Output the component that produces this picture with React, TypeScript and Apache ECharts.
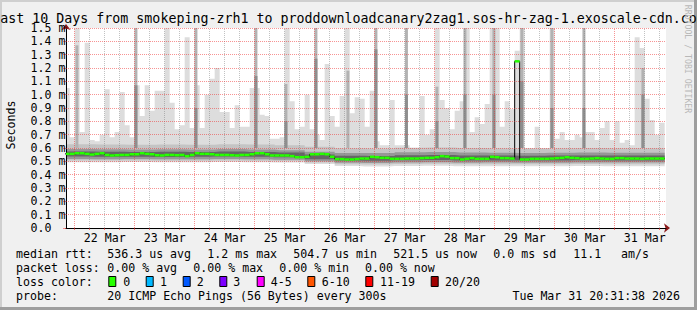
import { useEffect, useRef } from 'react';
import * as echarts from 'echarts';

const HOUR = 3600 * 1000;
const AXIS_START = Date.UTC(2026, 2, 21, 20, 31, 38);
const AXIS_END = Date.UTC(2026, 2, 31, 20, 31, 38);
const STEP_START = Date.UTC(2026, 2, 21, 20, 0, 0);
const STEP_HOURS = 2;
const BAND_HOURS = 12;
const DAY_REF = Date.UTC(2026, 2, 21, 0, 0, 0);
const MONO = '"DejaVu Sans Mono", monospace';

const TITLE = 'Last 10 Days from smokeping-zrh1 to proddownloadcanary2zag1.sos-hr-zag-1.exoscale-cdn.com';

// x tick labels (placed at noon of each day)
const labelDays = [22, 23, 24, 25, 26, 27, 28, 29, 30, 31];
const tickLabels = ['22 Mar', '23 Mar', '24 Mar', '25 Mar', '26 Mar', '27 Mar', '28 Mar', '29 Mar', '30 Mar', '31 Mar'];

// highest ping per 2-hour step (ms)
const maxRtt = [
  1.05, 0.68, 1.6, 0.72, 1.39, 0.66, 0.65, 0.70, 1.04, 0.68,
  0.72, 1.02, 0.77, 0.68, 1.07, 0.84, 1.07, 0.88, 1.03, 1.03,
  1.6, 0.94, 0.74, 0.77, 1.43, 0.75, 1.07, 0.75, 1.0, 1.12,
  1.2, 0.87, 0.87, 0.75, 0.92, 0.76, 0.76, 1.05, 1.05, 0.85,
  0.84, 0.67, 0.67, 0.68, 1.6, 0.95, 0.74, 0.76, 1.0, 0.74,
  0.70, 0.66, 1.23, 0.84, 0.76, 0.99, 1.6, 0.86, 0.98, 0.97,
  0.76, 1.03, 0.65, 0.62, 0.62, 0.96, 0.62, 0.62, 0.62, 0.60,
  0.60, 0.99, 0.70, 0.74, 1.6, 0.96, 0.90, 0.74, 0.88, 0.95,
  1.6, 0.72, 0.83, 0.78, 0.93, 1.6, 1.6, 0.76, 0.95, 0.89,
  1.33, 1.6, 0.60, 0.60, 0.76, 0.60, 0.60, 1.6, 0.67, 0.72,
  0.66, 0.66, 0.70, 0.68, 0.72, 0.72, 0.66, 0.75, 0.80, 0.66,
  0.80, 0.64, 0.66, 0.62, 1.43, 1.35, 0.97, 0.81, 0.70, 0.79,
];

// median rtt per 2-hour step (ms)
const medianRtt = [
  0.556, 0.556, 0.561, 0.561, 0.556, 0.551, 0.556, 0.561, 0.548, 0.544,
  0.546, 0.548, 0.548, 0.553, 0.553, 0.561, 0.556, 0.553, 0.546, 0.544,
  0.548, 0.548, 0.546, 0.548, 0.539, 0.548, 0.561, 0.556, 0.556, 0.553,
  0.548, 0.548, 0.548, 0.546, 0.544, 0.548, 0.548, 0.553, 0.561, 0.561,
  0.553, 0.544, 0.544, 0.544, 0.544, 0.539, 0.531, 0.531, 0.534, 0.553,
  0.553, 0.556, 0.553, 0.534, 0.517, 0.517, 0.514, 0.514, 0.517, 0.521,
  0.521, 0.534, 0.531, 0.526, 0.526, 0.519, 0.519, 0.519, 0.521, 0.521,
  0.521, 0.524, 0.526, 0.526, 0.531, 0.539, 0.536, 0.524, 0.524, 0.514,
  0.519, 0.524, 0.519, 0.519, 0.519, 0.534, 0.531, 0.524, 0.524, 0.521,
  1.25, 0.514, 0.514, 0.519, 0.519, 0.519, 0.519, 0.521, 0.524, 0.526,
  0.531, 0.526, 0.524, 0.519, 0.519, 0.521, 0.524, 0.521, 0.519, 0.519,
  0.524, 0.524, 0.521, 0.521, 0.521, 0.519, 0.521, 0.521, 0.521, 0.521,
];

// smoke bands per 12-hour step (ms)
const bandMinRtt = [0.494, 0.494, 0.495, 0.494, 0.494, 0.495, 0.494, 0.492, 0.480, 0.465, 0.462, 0.465, 0.466, 0.463, 0.464, 0.463, 0.463, 0.465, 0.464, 0.464];
const bandOuterLow = [0.506, 0.506, 0.507, 0.505, 0.505, 0.506, 0.505, 0.503, 0.492, 0.478, 0.476, 0.480, 0.481, 0.478, 0.479, 0.478, 0.478, 0.480, 0.479, 0.479];
const bandOuterHigh = [0.628, 0.626, 0.625, 0.626, 0.624, 0.628, 0.626, 0.620, 0.610, 0.598, 0.596, 0.602, 0.604, 0.600, 0.598, 0.596, 0.598, 0.600, 0.598, 0.598];
const bandMidLow = [0.518, 0.516, 0.517, 0.515, 0.516, 0.517, 0.516, 0.512, 0.500, 0.490, 0.488, 0.492, 0.494, 0.490, 0.491, 0.490, 0.490, 0.492, 0.491, 0.491];
const bandMidHigh = [0.592, 0.590, 0.588, 0.590, 0.588, 0.592, 0.588, 0.584, 0.572, 0.563, 0.562, 0.568, 0.570, 0.566, 0.564, 0.563, 0.565, 0.566, 0.565, 0.565];
const bandCoreLow = [0.536, 0.534, 0.535, 0.533, 0.534, 0.536, 0.534, 0.530, 0.516, 0.506, 0.504, 0.508, 0.510, 0.506, 0.507, 0.506, 0.506, 0.508, 0.507, 0.507];
const bandCoreHigh = [0.574, 0.572, 0.570, 0.572, 0.570, 0.574, 0.570, 0.566, 0.552, 0.542, 0.540, 0.546, 0.548, 0.544, 0.543, 0.542, 0.543, 0.544, 0.543, 0.543];

// short dense-smoke columns (hours after 21 Mar 00:00 UTC)
const columnHours = [24.9, 48.5, 72.5, 96.5, 108.5, 120.5, 133.3, 144.5, 156.7, 168.9, 180.1, 191.7, 202.9, 214.9, 227.7, 251.3];
const columnTop = [1.37, 1.6, 1.6, 1.6, 1.08, 1.6, 1.18, 1.6, 1.6, 1.06, 1.6, 1.6, 1.6, 1.6, 1.6, 1.2];
const columnMid = [0.6, 1.07, 0.9, 1.14, 0.8, 1.27, 0.6, 1.34, 1.0, 0.8, 1.0, 1.0, 1.1, 0.9, 0.9, 1.0];
const COLUMN_BASE = 0.6;

const lossLabels = ['0', '1', '2', '3', '4-5', '6-10', '11-19', '20/20'];
const lossColors = ['#26ff00', '#00b8ff', '#0059ff', '#7e00ff', '#ff00ff', '#ff5500', '#ff0000', '#a10000'];

const statsRow1 = ['median rtt:', '536.3 us avg', '1.2 ms max', '504.7 us min', '521.5 us now', '0.0 ms sd', '11.1', 'am/s'];
const statsRow2 = ['packet loss:', '0.00 % avg', '0.00 % max', '0.00 % min', '0.00 % now'];
const probeText = ['probe:', '20 ICMP Echo Pings (56 Bytes) every 300s'];
const dateText = 'Tue Mar 31 20:31:38 2026';

const stepTime = (i: number) => STEP_START + i * STEP_HOURS * HOUR;
const bandAt = (arr: number[], i: number) => arr[Math.floor((i * STEP_HOURS) / BAND_HOURS)];

function stepPoints(vals: number[]) {
  const pts: [number, number][] = vals.map((v, i) => [stepTime(i), v]);
  pts.push([stepTime(vals.length), vals[vals.length - 1]]);
  return pts;
}

const TIME_DIMS = [{ name: 't', type: 'time' }, { name: 'v', type: 'float' }];

function bandSeries(name: string, lo: number[], hi: number[], color: string) {
  const diff = lo.map((v, i) => hi[i] - v);
  return [
    {
      type: 'line', name: name + '-base', stack: name, step: 'end', symbol: 'none', silent: true, z: 2,
      xAxisIndex: 1, dimensions: TIME_DIMS, encode: { x: 't', y: 'v' },
      data: stepPoints(lo), lineStyle: { width: 0, opacity: 0 }, areaStyle: { opacity: 0 },
    },
    {
      type: 'line', name, stack: name, step: 'end', symbol: 'none', silent: true, z: 2,
      xAxisIndex: 1, dimensions: TIME_DIMS, encode: { x: 't', y: 'v' },
      data: stepPoints(diff), lineStyle: { width: 0, opacity: 0 }, areaStyle: { color, opacity: 1 },
    },
  ];
}

export default function App() {
  const ref = useRef<HTMLDivElement>(null);
  useEffect(() => {
    document.body.style.margin = '0';
    if (!ref.current) return;
    const chart = echarts.init(ref.current, null, { renderer: 'svg' });

    const idx = maxRtt.map((_, i) => i);
    const minExp = idx.map((i) => bandAt(bandMinRtt, i));
    const outLo = idx.map((i) => bandAt(bandOuterLow, i));
    const outHi = idx.map((i) => bandAt(bandOuterHigh, i));
    const midLo = idx.map((i) => bandAt(bandMidLow, i));
    const midHi = idx.map((i) => bandAt(bandMidHigh, i));
    const coreLo = idx.map((i) => bandAt(bandCoreLow, i));
    const coreHi = idx.map((i) => bandAt(bandCoreHigh, i));

    const sixHours: number[] = [];
    for (let t = DAY_REF; t <= AXIS_END; t += 6 * HOUR) if (t > AXIS_START) sixHours.push(t);
    const labelTimes = labelDays.map((d) => Date.UTC(2026, 2, d, 12, 0, 0));
    const yGrid: number[] = [];
    for (let k = 1; k <= 15; k++) yGrid.push(k / 10);

    const redGrid = { color: 'rgba(240,40,40,0.5)', type: [1, 1], width: 1 };
    const grayGrid = { color: 'rgba(120,120,120,0.45)', type: [1, 1], width: 1 };
    const gridLines: any[] = [];
    sixHours.forEach((t) => {
      const isDay = new Date(t).getUTCHours() === 0;
      gridLines.push({ xAxis: t, lineStyle: isDay ? redGrid : grayGrid });
    });
    yGrid.forEach((v) => gridLines.push({ yAxis: v, lineStyle: redGrid }));

    const textEl = (text: string, x: number, y: number, extra: any = {}) => ({
      type: 'text', x, y, silent: true,
      style: { text, fill: '#000', fontFamily: MONO, fontSize: 11.6, align: 'left', verticalAlign: 'middle', ...extra },
    });

    const row1X = [16, 107.3, 207.3, 293.3, 393.3, 493.3, 573.3, 621];
    const row2X = [16, 107.3, 193.3, 279.3, 365];
    const boxX = [108.3, 145.7, 182.7, 219.3, 256.7, 307.3, 365.3, 430.7];
    const boxLabelX = [123.3, 160, 196.7, 233.3, 270.7, 321.7, 380, 445];

    const graphics: any[] = [
      { type: 'rect', shape: { x: 0, y: 0, width: 697, height: 2 }, style: { fill: '#cfcfcf' }, silent: true },
      { type: 'rect', shape: { x: 0, y: 0, width: 2, height: 310 }, style: { fill: '#cfcfcf' }, silent: true },
      { type: 'rect', shape: { x: 0, y: 307, width: 697, height: 3 }, style: { fill: '#9e9e9e' }, silent: true },
      { type: 'rect', shape: { x: 694, y: 0, width: 3, height: 310 }, style: { fill: '#9e9e9e' }, silent: true },
      textEl(TITLE, 348.5, 18.5, { fontSize: 13.3, align: 'center' }),
      {
        type: 'text', x: 11, y: 125, rotation: Math.PI / 2, silent: true,
        style: { text: 'Seconds', fill: '#000', fontFamily: MONO, fontSize: 11.6, align: 'center', verticalAlign: 'middle' },
      },
      {
        type: 'text', x: 688, y: 59, rotation: -Math.PI / 2, silent: true,
        style: { text: 'RRDTOOL / TOBI OETIKER', fill: '#b8b8b8', fontFamily: MONO, fontSize: 8.2, align: 'center', verticalAlign: 'middle' },
      },
    ];
    statsRow1.forEach((t, i) => graphics.push(textEl(t, row1X[i], 254.3)));
    statsRow2.forEach((t, i) => graphics.push(textEl(t, row2X[i], 268.3)));
    graphics.push(textEl('loss color:', 16, 282.3));
    lossLabels.forEach((t, i) => {
      graphics.push({
        type: 'rect', silent: true,
        shape: { x: boxX[i] + 0.5, y: 276.5, width: 7, height: 10 },
        style: { fill: lossColors[i], stroke: '#000', lineWidth: 1 },
      });
      graphics.push(textEl(t, boxLabelX[i], 282.3));
    });
    graphics.push(textEl(probeText[0], 16, 296));
    graphics.push(textEl(probeText[1], 107.3, 296));
    graphics.push(textEl(dateText, 680, 296, { align: 'right' }));

    const labelFor = (v: number) => {
      const d = new Date(v).getUTCDate();
      const k = labelDays.indexOf(d);
      return k >= 0 ? tickLabels[k] : '';
    };

    const option: any = {
      animation: false,
      backgroundColor: '#f0f0f0',
      grid: {
        left: 66, top: 28, right: 31, bottom: 82, show: true, backgroundColor: '#ffffff',
        borderWidth: 0, containLabel: false, outerBoundsMode: 'none',
      },
      xAxis: [
        {
          type: 'value', position: 'bottom', min: AXIS_START, max: AXIS_END, z: 3,
          axisLine: { show: true, onZero: false, lineStyle: { color: '#000', width: 1 } },
          axisTick: { show: true, length: 2, customValues: sixHours, lineStyle: { color: 'rgba(240,40,40,0.6)' } },
          axisLabel: {
            show: true, customValues: labelTimes, formatter: labelFor, margin: 4, color: '#000',
            fontFamily: MONO, fontSize: 11.6, hideOverlap: false, showMinLabel: true, showMaxLabel: true,
          },
          splitLine: { show: false },
        },
        {
          type: 'time', position: 'bottom', min: AXIS_START, max: AXIS_END, z: 1,
          axisLine: {
            show: true, onZero: false, symbol: ['none', 'arrow'], symbolSize: [7, 6], symbolOffset: [0, 4],
            lineStyle: { color: '#8b1a1a', width: 1 },
          },
          axisTick: { show: false }, axisLabel: { show: false }, splitLine: { show: false },
        },
      ],
      yAxis: [
        {
          type: 'value', position: 'left', min: 0, max: 1.5, interval: 0.1, z: 3,
          axisLine: { show: true, onZero: false, lineStyle: { color: '#000', width: 1 } },
          axisTick: { show: true, length: 3, lineStyle: { color: 'rgba(240,40,40,0.5)' } },
          axisLabel: {
            formatter: (v: number) => (v === 0 ? '0.0' : v.toFixed(1) + ' m'),
            align: 'left', margin: 35.5, color: '#000', fontFamily: MONO, fontSize: 11.6,
            showMinLabel: true, showMaxLabel: true,
          },
          splitLine: { show: false },
        },
        {
          type: 'value', position: 'left', min: 0, max: 1.5, z: 1,
          axisLine: {
            show: true, onZero: false, symbol: ['none', 'arrow'], symbolSize: [7, 6], symbolOffset: [0, 4],
            lineStyle: { color: '#8b1a1a', width: 1 },
          },
          axisTick: { show: false }, axisLabel: { show: false }, splitLine: { show: false },
        },
      ],
      graphic: { elements: graphics },
      series: [
        ...bandSeries('outer', minExp, maxRtt, '#dddddd'),
        ...bandSeries('upper', outLo, outHi, '#c4c4c4'),
        ...bandSeries('middle', midLo, midHi, '#979797'),
        ...bandSeries('core', coreLo, coreHi, '#666666'),
        {
          type: 'custom', name: 'columns', clip: true, silent: true, z: 3,
          encode: { x: 0, y: [1, 2] },
          data: columnHours.map((h, i) => [DAY_REF + h * HOUR, columnTop[i], columnMid[i]]),
          renderItem: (_p: any, api: any) => {
            const t = api.value(0);
            const top = api.value(1);
            const mid = api.value(2);
            const a = api.coord([t - 0.6 * HOUR, top]);
            const b = api.coord([t + 0.6 * HOUR, COLUMN_BASE]);
            const m = api.coord([t, mid]);
            const children: any[] = [
              { type: 'rect', shape: { x: a[0], y: a[1], width: b[0] - a[0], height: b[1] - a[1] }, style: { fill: '#b2b2b2' } },
            ];
            if (b[1] - m[1] > 0) {
              children.push({ type: 'rect', shape: { x: a[0], y: m[1], width: b[0] - a[0], height: b[1] - m[1] }, style: { fill: '#8e8e8e' } });
            }
            return { type: 'group', children };
          },
        },
        {
          type: 'line', name: 'median-outline', step: 'end', symbol: 'none', silent: true, z: 3,
          data: stepPoints(medianRtt), lineStyle: { color: '#000', width: 1 },
        },
        {
          type: 'custom', name: 'median', clip: true, silent: true, z: 6,
          encode: { x: [0, 1], y: 2 },
          data: medianRtt.map((m, i) => [stepTime(i), stepTime(i + 1), m]),
          renderItem: (_p: any, api: any) => {
            const a = api.coord([api.value(0), api.value(2)]);
            const b = api.coord([api.value(1), api.value(2)]);
            return { type: 'rect', shape: { x: a[0], y: a[1] - 1.25, width: b[0] - a[0], height: 2.5 }, style: { fill: lossColors[0] } };
          },
        },
        {
          type: 'line', name: 'grid', data: [], z: 5, silent: true,
          markLine: { silent: true, symbol: ['none', 'none'], label: { show: false }, animation: false, data: gridLines },
        },
      ],
    };
    chart.setOption(option);
    return () => chart.dispose();
  }, []);
  return <div ref={ref} style={{ width: 697, height: 310 }} />;
}
